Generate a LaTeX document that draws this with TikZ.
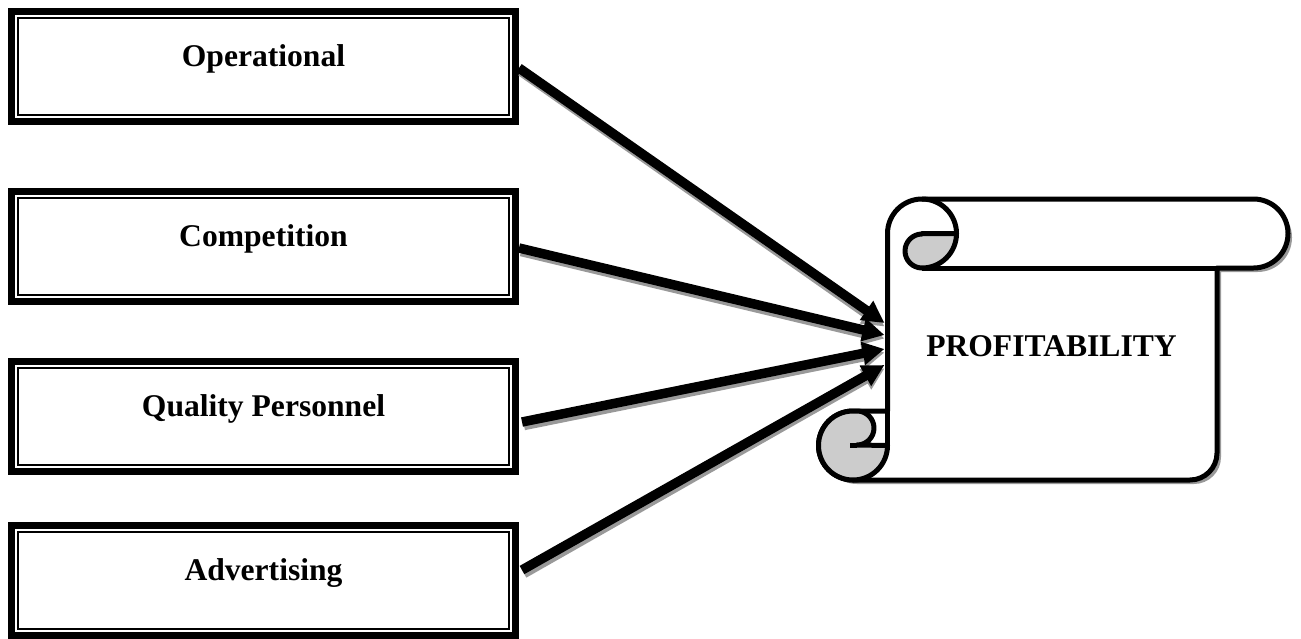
\documentclass[tikz,border=0pt]{standalone}
\usepackage{fontspec}
\setmainfont{Liberation Serif}
\usepackage{tikz}
\usetikzlibrary{calc,arrows.meta}

\tikzset{
  factor/.style={draw, line width=1pt, minimum width=245.5pt, minimum height=48.5pt, inner sep=0pt, outer sep=0pt, text height=8pt, text depth=8pt, font=\fontsize{15.8}{19}\selectfont\bfseries},
  thickframe/.style={line width=3.5pt},
  link/.style={line width=4.75pt, -{Triangle[length=11pt,width=11pt]}},
  linkshadow/.style={link, draw=gray!80},
  scrollline/.style={line width=2.5pt, line join=round},
}

\begin{document}
\begin{tikzpicture}[x=0.5pt,y=0.5pt,yscale=-1,xscale=1]
\useasboundingbox (0,0) rectangle (1301,638);

%Shape: Horizontal Scroll (shadow)
\begin{scope}[shift={(4,4)}]
\fill[gray!80] (887.5,233.5) arc[start angle=180,end angle=270,radius=34.5] -- (1253.5,199) arc[start angle=-90,end angle=90,radius=34.5] -- (1217,268) -- (1217,453) arc[start angle=0,end angle=90,radius=27] -- (853,480) arc[start angle=90,end angle=270,radius=34.5] -- (887.5,411) -- cycle ;
\end{scope}

%Shape: Horizontal Scroll
\filldraw[scrollline, fill=white] (887.5,233.5) arc[start angle=180,end angle=270,radius=34.5] -- (1253.5,199) arc[start angle=-90,end angle=90,radius=34.5] -- (1217,268) -- (1217,453) arc[start angle=0,end angle=90,radius=27] -- (853,480) arc[start angle=90,end angle=270,radius=34.5] -- (887.5,411) -- cycle ;
\draw[scrollline] (887.5,411) -- (887.5,445.5) ;
\filldraw[scrollline, fill=gray!40] (857,411) arc[start angle=-90,end angle=90,radius=17] -- (887.5,445.5) arc[start angle=0,end angle=270,radius=34.5] -- cycle ;
\draw[scrollline] (850,445.5) -- (857,445.5) ;
\filldraw[scrollline, fill=gray!40] (922,233.5) -- (956.5,233.5) arc[start angle=0,end angle=90,radius=34.5] arc[start angle=90,end angle=270,radius=17] -- cycle ;
\draw[scrollline] (922,199) arc[start angle=-90,end angle=0,radius=34.5] ;
\draw[scrollline] (922,268) -- (1217,268) ;

\node[minimum width=164.75pt, minimum height=140.5pt, inner sep=0pt, outer sep=0pt] (scroll) at (1052.25,339.5) {};

% Text Node
\node[font=\fontsize{15.8}{19}\selectfont\bfseries] (profit) at (1051.5,346) {PROFITABILITY};

% Text Node
\node[factor] (oper) at (263.5,66.5) {Operational};
% Text Node
\node[factor] (comp) at (263.5,246.5) {Competition};
% Text Node
\node[factor] (qual) at (263.5,416.5) {Quality Personnel};
% Text Node
\node[factor] (adv) at (263.5,580.5) {Advertising};

\foreach \n in {oper,comp,qual,adv}
  \draw[thickframe] ($(\n.south west)+(-6.5,6.5)$) rectangle ($(\n.north east)+(6.5,-6.5)$) ;

%Straight Lines
\foreach \src/\sx/\sy/\ty in {oper/10/1.5/-16.5, comp/10/1.5/-4.5, qual/13/5.5/9.5, adv/13/-10.5/25.5}
  \draw[linkshadow] ($(\src.east)+(\sx+2,\sy+3.5)$) -- ($(scroll.west)+(-3,\ty+3.5)$) ;
\foreach \src/\sx/\sy/\ty in {oper/10/1.5/-16.5, comp/10/1.5/-4.5, qual/13/5.5/9.5, adv/13/-10.5/25.5}
  \draw[link] ($(\src.east)+(\sx,\sy)$) -- ($(scroll.west)+(-3,\ty)$) ;

\end{tikzpicture}
\end{document}
